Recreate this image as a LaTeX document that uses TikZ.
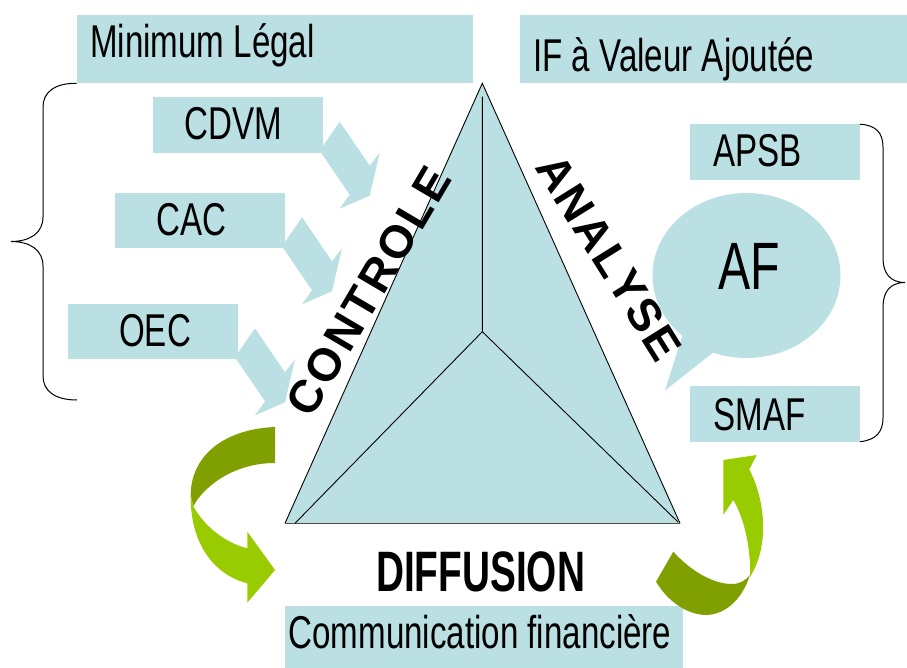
\documentclass[tikz,border=0pt]{standalone}
\usepackage{fontspec}
\newfontfamily\narrowf[FakeStretch=0.72]{Liberation Sans}
\newfontfamily\narrowbf[FakeStretch=0.68]{Liberation Sans Bold}
\newfontfamily\widebf{Liberation Sans Bold}
\definecolor{pale}{RGB}{187,224,227}
\definecolor{olivegreen}{RGB}{127,160,0}
\definecolor{limegreen}{RGB}{153,204,0}
\newcommand\blockarrow[1]{%
  \fill[pale] ([shift={(17,-31)}]#1.south east) -- ([shift={(47,13)}]#1.south east)
   -- ([shift={(57,0)}]#1.south east) -- ([shift={(47,43)}]#1.south east)
   -- ([shift={(17,56)}]#1.south east) -- ([shift={(27,42)}]#1.south east)
   -- ([shift={(-3,-2)}]#1.south east) -- cycle;}
\begin{document}
\begin{tikzpicture}[x=1pt,y=-1pt,
  box/.style={fill=pale, draw=none, inner sep=0pt, outer sep=0pt, anchor=north west},
  lbl/.style={inner sep=0pt, anchor=base west, font=\narrowf\fontsize{46}{50}\selectfont},
  edge/.style={line width=0.9pt, black},
  brace/.style={line width=1pt, black}]
\useasboundingbox (0,0) rectangle (907,668);

% boxes
\node[box, minimum width=396.6pt, minimum height=68.3pt] (ml) at (76.7,15) {};
\node[box, minimum width=387pt, minimum height=68.3pt] (ifv) at (520,15) {};
\node[box, minimum width=170pt, minimum height=55.4pt] (cdvm) at (152.7,97.3) {};
\node[box, minimum width=170pt, minimum height=55.6pt] (cac) at (115,192.7) {};
\node[box, minimum width=170pt, minimum height=55.3pt] (oec) at (68,304) {};
\node[box, minimum width=170pt, minimum height=55.7pt] (apsb) at (690,124.3) {};
\node[box, minimum width=170pt, minimum height=55.7pt] (smaf) at (690,386) {};
\node[box, minimum width=398pt, minimum height=62pt] (cf) at (285,606) {};

% block arrows
\blockarrow{cdvm}
\blockarrow{cac}
\blockarrow{oec}

% braces
\draw[brace] (ml.south west) .. controls (55,83) and (43,92) .. (43,107) -- (43,217)
  .. controls (43,233) and (30,241.5) .. (11,241.5)
  .. controls (30,241.5) and (43,250) .. (43,266) -- (43,376)
  .. controls (43,391) and (55,400) .. (77,400);
\draw[brace] (apsb.north east) .. controls (876,125) and (883,133) .. (883,147) -- (883,258)
  .. controls (883,273) and (890,282.5) .. (905,282.5)
  .. controls (890,282.5) and (883,292) .. (883,307) -- (883,418)
  .. controls (883,432) and (876,440) .. (smaf.south east);

% triangle
\coordinate (apex) at (482.3,83.3);
\coordinate (bl) at (285,523.3);
\coordinate (br) at (680,523.3);
\coordinate (ctr) at (482.3,331.7);
\coordinate (top2) at (482.3,96.7);
\coordinate (bl2) at (295,523.3);
\coordinate (br2) at (678,522);
\fill[pale] (apex) -- (bl) -- (br) -- cycle;
\draw[edge] (bl) -- (apex) -- (br);
\draw[line width=1.6pt, black!70] (bl) -- (br);
\draw[edge] (top2) -- (ctr) -- (bl2);
\draw[edge] (ctr) -- (br2);

% callout
\fill[pale] (746.5,275.5) ellipse [x radius=94, y radius=82.5];
\fill[pale] (665,390.5) -- (684.5,329) -- (720,347) -- cycle;
\node[inner sep=0pt, anchor=base west, font=\narrowf\fontsize{67}{70}\selectfont] (af) at (718,290) {AF};

% green arrows
\fill[olivegreen] (275,427) .. controls (225,429) and (191,455) .. (190.7,495) -- (193.3,506)
  .. controls (205,485) and (235,463) .. (275,463) -- cycle;
\fill[limegreen] (190.7,495) .. controls (190,545) and (215,575) .. (247.3,583.3)
  -- (247.3,602.7) -- (275,570) -- (247.3,531.7) -- (247.3,548.3)
  .. controls (225,543) and (203,525) .. (193.3,506) -- cycle;
\fill[limegreen] (723.3,460) -- (756.7,455) -- (749.3,469.3)
  .. controls (765,500) and (770,545) .. (750,577)
  .. controls (751,550) and (745,520) .. (733.3,500) -- (723.3,515) -- cycle;
\fill[olivegreen] (750,575) .. controls (742,600) and (725,615) .. (705,615)
  .. controls (685,614) and (667,600) .. (656,581.7) -- (673.3,551.7)
  .. controls (690,570) and (712,584) .. (732,584)
  .. controls (740,584) and (746,580) .. (750,575) -- cycle;

% labels
\node[lbl] (mlT) at (90,58) {Minimum Légal};
\node[lbl] (ifvT) at (533,71.7) {IF à Valeur Ajoutée};
\node[lbl] (cdvmT) at (184,140) {CDVM};
\node[lbl] (cacT) at (156.7,236) {CAC};
\node[lbl] (oecT) at (119,346.7) {OEC};
\node[lbl] (apsbT) at (713.3,166.7) {APSB};
\node[lbl] (smafT) at (713.3,430) {SMAF};
\node[lbl] (cfT) at (288.3,648.3) {Communication financière};
\node[inner sep=0pt, anchor=base west, font=\narrowbf\fontsize{57}{60}\selectfont] (diff) at (376,591.7) {DIFFUSION};

\node[inner sep=0pt, rotate=59.5, font=\widebf\fontsize{46}{50}\selectfont] (controle) at (368.3,291)
  {C\hspace{3pt}O\hspace{3pt}N\hspace{3pt}T\hspace{3pt}R\hspace{3pt}O\hspace{3pt}L\hspace{3pt}E};
\node[inner sep=0pt, rotate=-58, font=\widebf\fontsize{46}{50}\selectfont] (analyse) at (609,257.5)
  {A\hspace{2pt}N\hspace{2pt}A\hspace{2pt}L\hspace{2pt}Y\hspace{2pt}S\hspace{2pt}E};
\end{tikzpicture}
\end{document}
